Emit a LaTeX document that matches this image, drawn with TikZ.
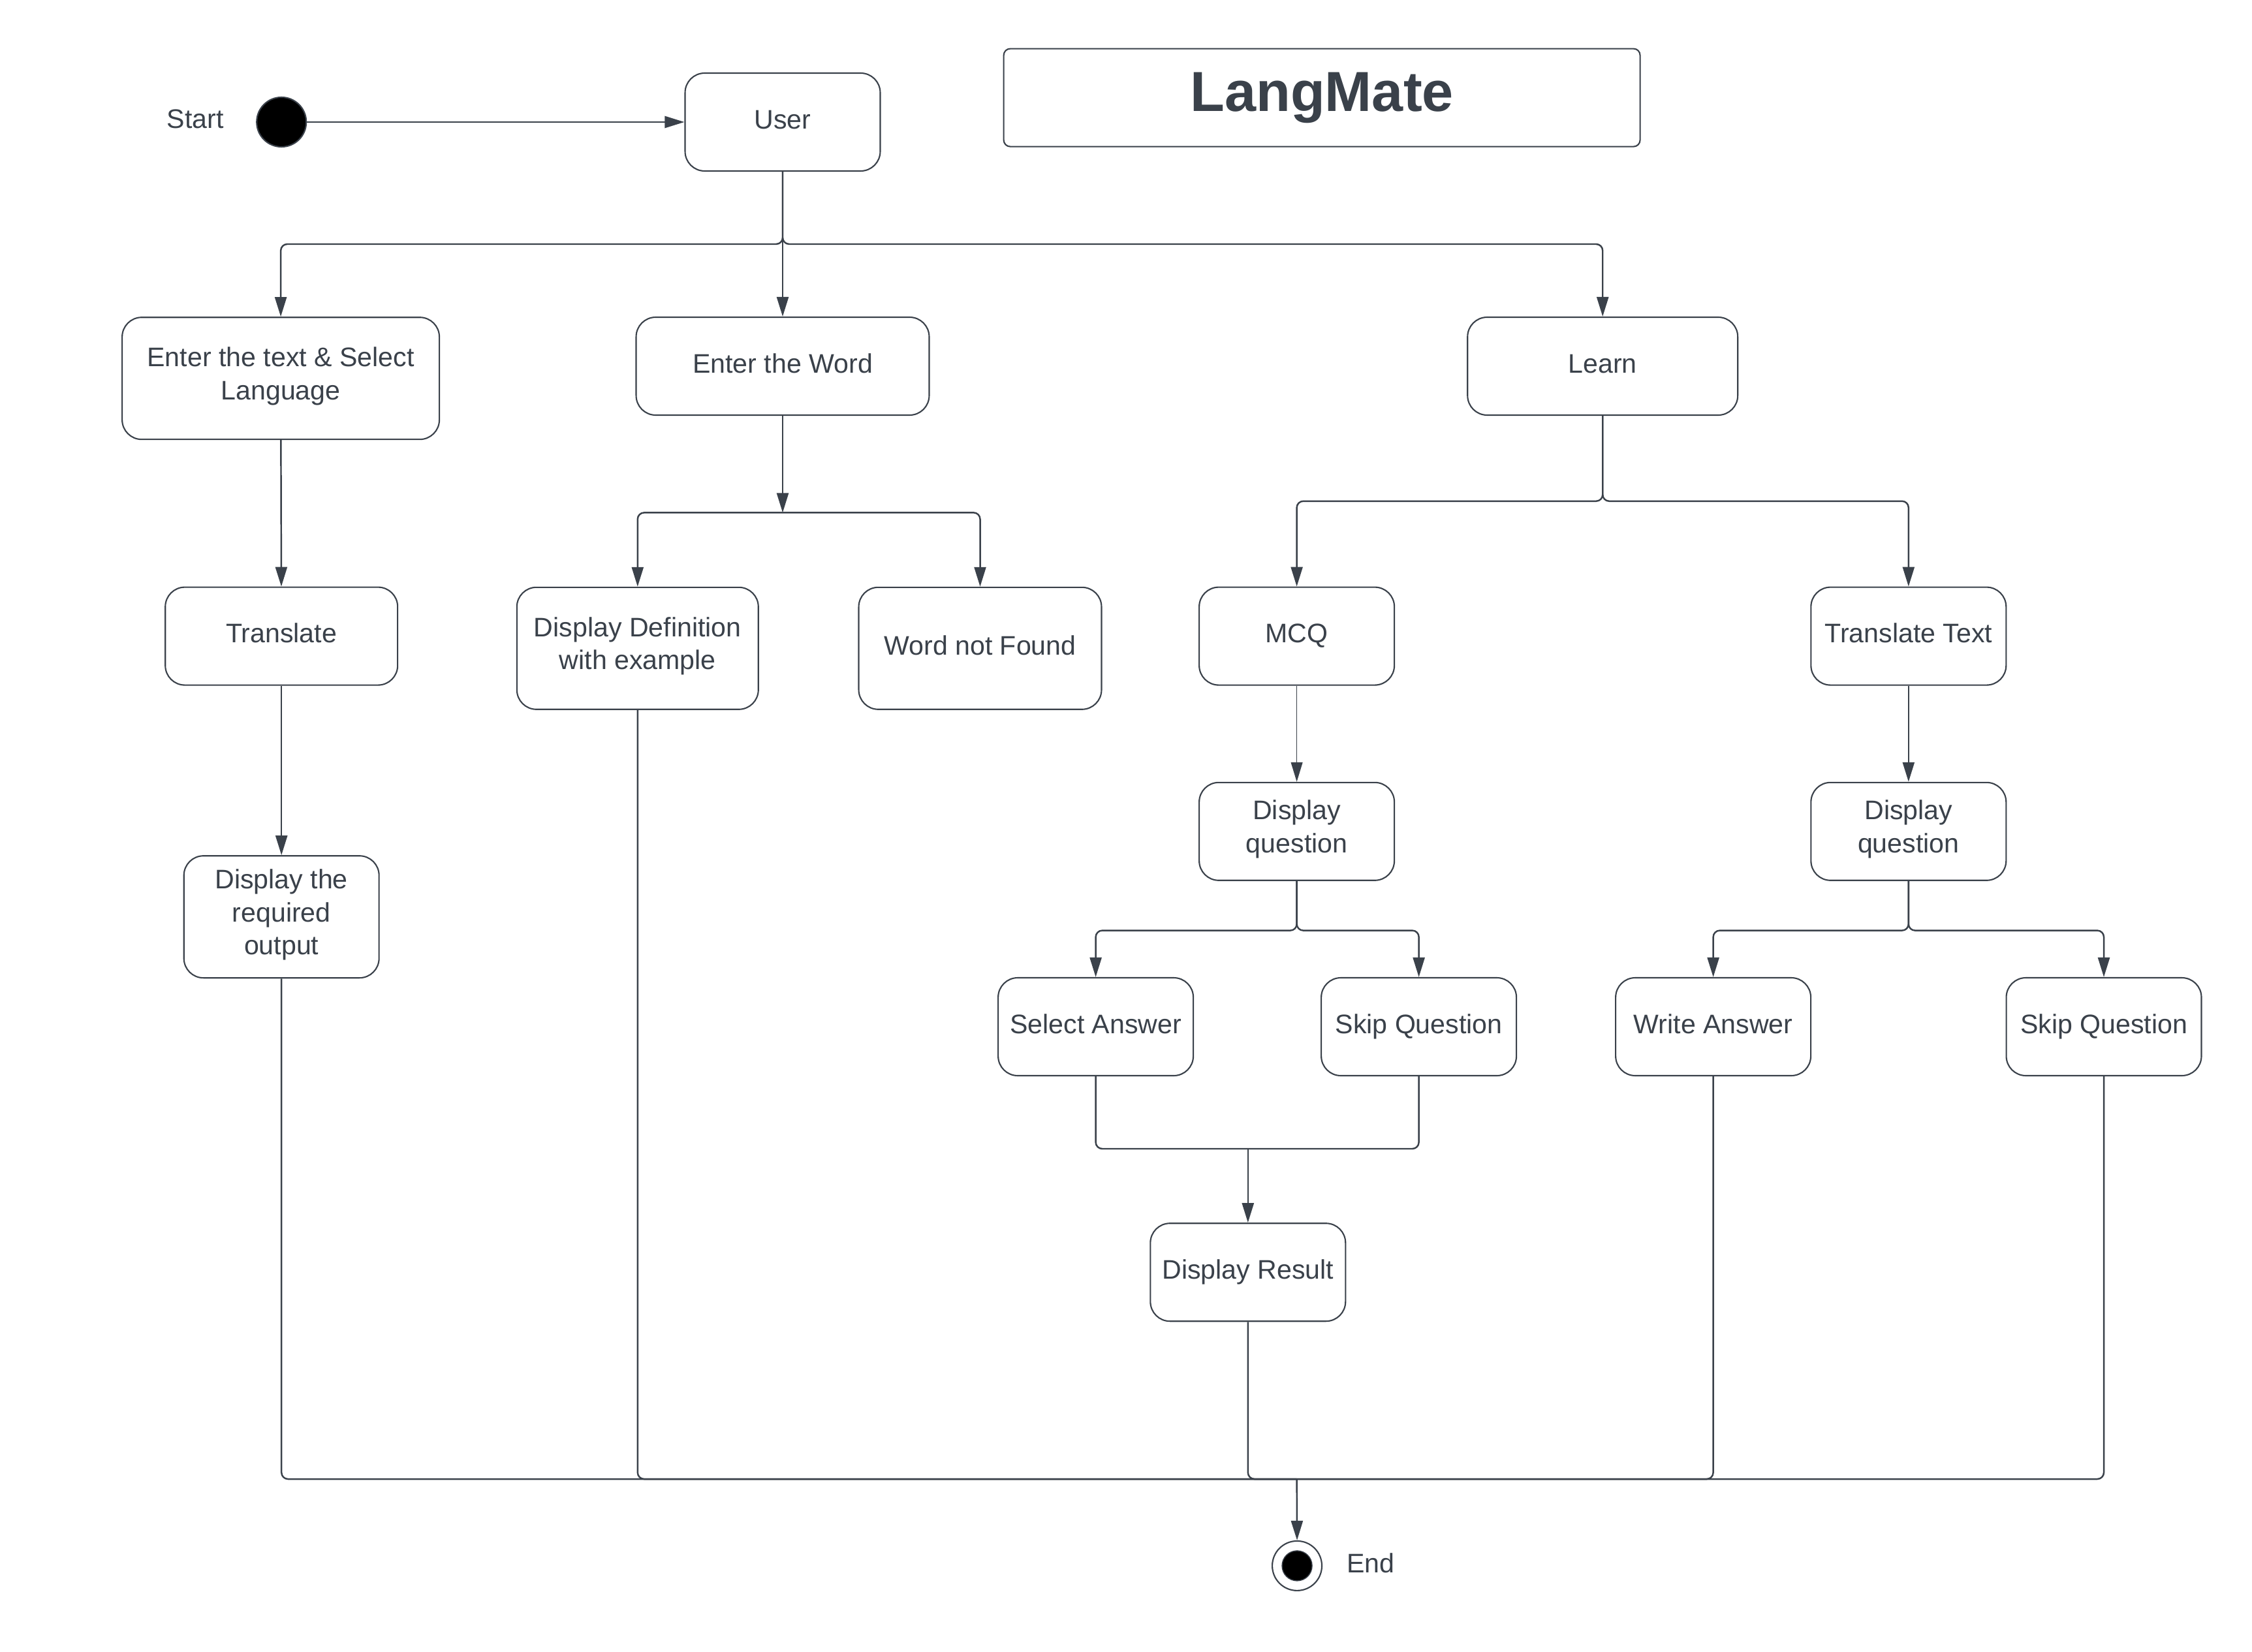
\documentclass[tikz,border=0pt]{standalone}
\usepackage{fontspec}
\setmainfont{Liberation Sans}
\usetikzlibrary{arrows.meta}
\definecolor{lc}{HTML}{3A414A}
\begin{document}
\begin{tikzpicture}[x=0.022cm,y=-0.022cm,
  box/.style={draw=lc, line width=0.6pt, rounded corners=0.3cm, fill=white, align=center,
    minimum width=2.99cm, minimum height=1.5cm, inner sep=0pt, text=lc,
    font=\fontsize{11.7}{14.4}\selectfont,
    execute at begin node=\strut, execute at end node=\strut},
  lbl/.style={text=lc, font=\fontsize{11.7}{14.4}\selectfont, inner sep=0pt},
  wire/.style={draw=lc, line width=0.7pt, rounded corners=0.1cm},
  arr/.style={wire, -{Triangle[length=0.3cm,width=0.18cm]}}]
\useasboundingbox (0,0) rectangle (1568.18,1150.45);

% start / title
\node[lbl] (startlbl) at (136,83) {Start};
\node[circle, fill=black, draw=lc, line width=0.6pt, minimum size=0.76cm, inner sep=0pt] (start) at (196,85) {};
\node[box] (user) at (545,85) {User};
\node[box, minimum width=9.75cm, rounded corners=0.1cm, font=\fontsize{24.6}{29.5}\selectfont\bfseries] (title) at (920.5,68) {LangMate};

% row 2
\node[box, minimum width=4.86cm, minimum height=1.87cm] (ent) at (195.5,263.5) {Enter the text \& Select\\Language};
\node[box, minimum width=4.49cm] (word) at (545,255) {Enter the Word};
\node[box, minimum width=4.14cm] (learn) at (1116,255) {Learn};

% row 3
\node[box, minimum width=3.56cm] (tr) at (196,443) {Translate};
\node[box, minimum width=3.70cm, minimum height=1.87cm] (def) at (444,451.5) {Display Definition\\with example};
\node[box, minimum width=3.72cm, minimum height=1.87cm] (wnf) at (682.5,451.5) {Word not Found};
\node[box] (mcq) at (903,443) {MCQ};
\node[box] (tt) at (1329,443) {Translate Text};

% row 4
\node[box, minimum height=1.87cm] (out) at (196,638.5) {Display the\\required\\output};
\node[box] (dq1) at (903,579) {Display\\question};
\node[box] (dq2) at (1329,579) {Display\\question};

% row 5
\node[box] (sa) at (763,715) {Select Answer};
\node[box] (sq1) at (988,715) {Skip Question};
\node[box] (wa) at (1193,715) {Write Answer};
\node[box] (sq2) at (1465,715) {Skip Question};

% result / end
\node[box] (res) at (869,886) {Display Result};
\node[circle, draw=lc, line width=0.6pt, fill=white, minimum size=0.76cm, inner sep=0pt] (end) at (903.2,1090.4) {};
\node[circle, fill=black, draw=lc, line width=0.4pt, minimum size=0.46cm, inner sep=0pt] (endin) at (end) {};
\node[lbl] (endlbl) at (954.5,1088.6) {End};

% junctions
\coordinate (j1) at (545,170);
\coordinate (j2) at (545,357);
\coordinate (j3) at (1116,349);
\coordinate (j4) at (903,648);
\coordinate (j5) at (1329,648);
\coordinate (j6) at (869,800);
\coordinate (j7) at (903,1030);

% connectors
\draw[arr] (start) -- (user);
\draw[arr] (user.south) -- (j1) -| (ent.north);
\draw[arr] (user.south) -- (word.north);
\draw[arr] (user.south) -- (j1) -| (learn.north);

\draw[arr] (ent) -- (tr);
\draw[arr] (tr) -- (out);

\draw[arr] (word.south) -- (j2);
\draw[arr] (j2) -| (def.north);
\draw[arr] (j2) -| (wnf.north);

\draw[arr] (learn.south) -- (j3) -| (mcq.north);
\draw[arr] (learn.south) -- (j3) -| (tt.north);

\draw[arr, line width=0.35pt] (mcq) -- (dq1);
\draw[arr] (tt) -- (dq2);

\draw[arr] (dq1.south) -- (j4) -| (sa.north);
\draw[arr] (dq1.south) -- (j4) -| (sq1.north);
\draw[arr] (dq2.south) -- (j5) -| (wa.north);
\draw[arr] (dq2.south) -- (j5) -| (sq2.north);

\draw[wire] (sa.south) |- (j6);
\draw[wire] (sq1.south) |- (j6);
\draw[arr] (j6) -- (res.north);

\draw[wire] (out.south) |- (j7);
\draw[wire] (def.south) |- (j7);
\draw[wire] (res.south) |- (j7);
\draw[wire] (wa.south) |- (j7);
\draw[wire] (sq2.south) |- (j7);
\draw[arr] (j7) -- (end.north);
\end{tikzpicture}
\end{document}
